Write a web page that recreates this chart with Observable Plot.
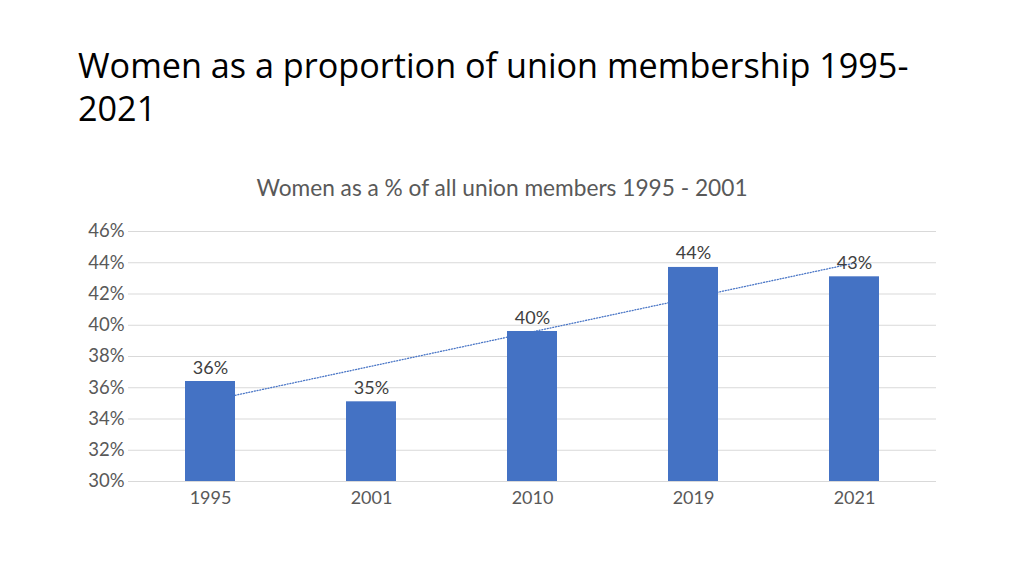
<!DOCTYPE html>
<html>
<head>
<meta charset="utf-8">
<script src="https://cdn.jsdelivr.net/npm/d3@7"></script>
<script src="https://cdn.jsdelivr.net/npm/@observablehq/plot@0.6"></script>
<style>
  html, body { margin: 0; padding: 0; background: #fff; }
  #wrap { position: relative; width: 1024px; height: 575px; overflow: hidden; }
  #title { position: absolute; left: 78px; top: 43px; font-family: "Open Sans", "Noto Sans", sans-serif; font-size: 34.2px; line-height: 43px; color: #000; white-space: nowrap; }
  #subtitle { position: absolute; left: 0; width: 1004px; top: 174px; text-align: center; font-family: Lato, sans-serif; font-size: 22.7px; color: #595959; }
  #chart { position: absolute; left: 0; top: 0; }
</style>
</head>
<body>
<div id="wrap">
  <div id="chart"></div>
  <div id="title">Women as a proportion of union membership 1995-<br>2021</div>
  <div id="subtitle">Women as a % of all union members 1995 - 2001</div>
</div>
<script>
const years = ["1995", "2001", "2010", "2019", "2021"];
const shares = [36.4, 35.1, 39.6, 43.7, 43.1];
const yTicks = [30, 32, 34, 36, 38, 40, 42, 44, 46];

const data = years.map((y, i) => ({year: y, value: shares[i]}));

// Linear trendline (least squares over category index), like a spreadsheet trendline
const xs = shares.map((_, i) => i + 1);
const mx = d3.mean(xs), my = d3.mean(shares);
const slope = d3.sum(xs.map((x, i) => (x - mx) * (shares[i] - my))) / d3.sum(xs.map(x => (x - mx) ** 2));
const intercept = my - slope * mx;
const trend = years.map((y, i) => ({year: y, value: intercept + slope * (i + 1)}));

const chart = Plot.plot({
  width: 1024,
  height: 575,
  marginLeft: 128,
  marginRight: 88,
  marginTop: 231,
  marginBottom: 94,
  style: {fontFamily: "Lato, sans-serif", fontSize: "18px", color: "#595959", background: "transparent"},
  x: {domain: years, paddingInner: 0.69, paddingOuter: 0.345, label: null},
  y: {domain: [30, 46], label: null},
  marks: [
    Plot.ruleY(yTicks, {stroke: "#d9d9d9", strokeWidth: 1}),
    Plot.line(trend, {x: "year", y: "value", stroke: "#4a76c6", strokeWidth: 1.3, strokeDasharray: "1,1.8"}),
    Plot.barY(data, {x: "year", y1: 30, y2: "value", fill: "#4472c4"}),
    Plot.text(data, {x: "year", y: "value", text: d => Math.round(d.value) + "%", lineAnchor: "bottom", dy: -8, fill: "#404040", fontSize: 18}),
    Plot.axisY({ticks: yTicks, tickFormat: d => d + "%", tickSize: 0, tickPadding: 4, fontSize: 18.5}),
    Plot.axisX({tickSize: 0, tickPadding: 10, fontSize: 18})
  ]
});
document.getElementById("chart").appendChild(chart);
</script>
</body>
</html>
